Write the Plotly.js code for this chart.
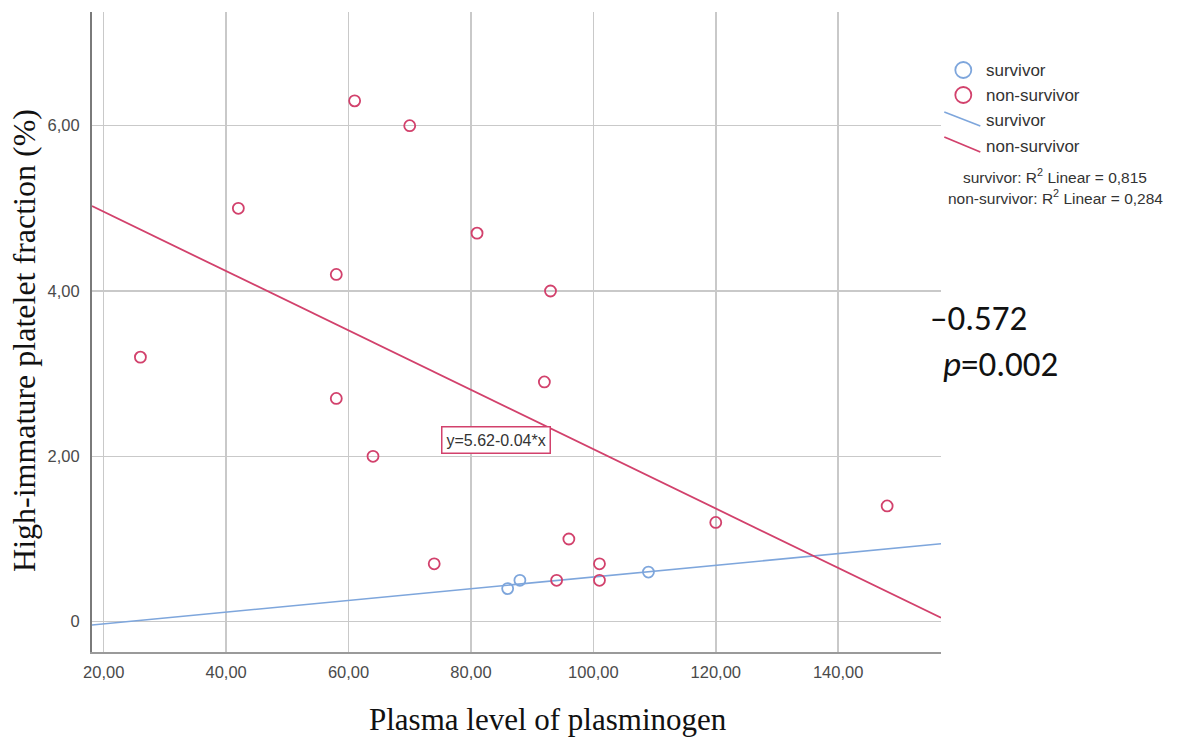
<!DOCTYPE html>
<html>
<head>
<meta charset="utf-8">
<script src="https://cdn.plot.ly/plotly-3.0.1.min.js"></script>
<style>html,body{margin:0;padding:0;background:#fff;}#chart{width:1181px;height:738px;}</style>
</head>
<body>
<div id="chart"></div>
<script>
// ---- data ----
const survivorX = [86, 88, 109];
const survivorY = [0.4, 0.5, 0.6];
const nonSurvivorX = [26, 42, 58, 58, 61, 70, 64, 81, 93, 92, 74, 96, 101, 101, 94, 120, 148];
const nonSurvivorY = [3.2, 5.0, 4.2, 2.7, 6.3, 6.0, 2.0, 4.7, 4.0, 2.9, 0.7, 1.0, 0.7, 0.5, 0.5, 1.2, 1.4];
const xTickVals = [20, 40, 60, 80, 100, 120, 140];
const xTickText = ["20,00", "40,00", "60,00", "80,00", "100,00", "120,00", "140,00"];
const yTickVals = [0, 2, 4, 6];
const yTickText = ["0", "2,00", "4,00", "6,00"];
const legendNames = ["survivor", "non-survivor"];
const r2Text = ["survivor: R<sup>2</sup> Linear = 0,815", "non-survivor: R<sup>2</sup> Linear = 0,284"];
const equationText = "y=5.62-0.04*x";
const corrText = "\u20130.572";
const pText = "<i>p</i>=0.002";

const xRange = [18.09, 156.8];
const yRange = [-0.367, 7.375];

const BLUE = "#7ea6dc";
const RED = "#d2416c";

function fit(xs, ys) {
  const n = xs.length;
  const mx = xs.reduce((a, b) => a + b, 0) / n;
  const my = ys.reduce((a, b) => a + b, 0) / n;
  let sxy = 0, sxx = 0;
  for (let i = 0; i < n; i++) { sxy += (xs[i] - mx) * (ys[i] - my); sxx += (xs[i] - mx) ** 2; }
  const b = sxy / sxx;
  return { a: my - b * mx, b: b };
}
const fS = fit(survivorX, survivorY);
const fN = fit(nonSurvivorX, nonSurvivorY);

const traces = [
  { x: xRange, y: xRange.map(v => fS.a + fS.b * v), mode: "lines", line: { color: BLUE, width: 1.6 }, hoverinfo: "skip" },
  { x: xRange, y: xRange.map(v => fN.a + fN.b * v), mode: "lines", line: { color: RED, width: 1.8 }, hoverinfo: "skip" },
  { x: survivorX, y: survivorY, mode: "markers", marker: { symbol: "circle-open", size: 11, color: BLUE, line: { width: 1.8, color: BLUE } } },
  { x: nonSurvivorX, y: nonSurvivorY, mode: "markers", marker: { symbol: "circle-open", size: 11, color: RED, line: { width: 1.8, color: RED } } }
];

function py(p) { return 1 - (p - 12) / 640; }  // pixel y -> paper y
function px(p) { return (p - 92) / 848.7; }     // pixel x -> paper x

const legFont = { family: "Liberation Sans, Arial, sans-serif", size: 17, color: "#333" };
const r2Font = { family: "Liberation Sans, Arial, sans-serif", size: 15.5, color: "#333" };
const bigFont = { family: "Carlito, Open Sans, sans-serif", size: 35, color: "#111" };
const serifTitle = { family: "Liberation Serif, Times New Roman, serif", size: 32, color: "#111" };

const annotations = [
  { xref: "paper", yref: "paper", x: px(24), y: py(340), xanchor: "center", yanchor: "middle", textangle: -90, showarrow: false,
    text: "High-immature platelet fraction (%)", font: serifTitle },
  { xref: "paper", yref: "paper", x: px(548), y: py(719), xanchor: "center", yanchor: "middle", showarrow: false,
    text: "Plasma level of plasminogen", font: { family: "Liberation Serif, Times New Roman, serif", size: 31, color: "#111" } },
  { xref: "x", yref: "y", x: 84.1, y: 2.2, showarrow: false, text: equationText, bordercolor: RED, borderwidth: 1.5, borderpad: 4, bgcolor: "#fff",
    font: { family: "Liberation Sans, Arial, sans-serif", size: 16, color: "#333" } }
];
const legY = [71, 96, 121, 146];
const legLabels = [legendNames[0], legendNames[1], legendNames[0], legendNames[1]];
for (let i = 0; i < 4; i++) {
  annotations.push({ xref: "paper", yref: "paper", x: px(984), y: py(legY[i]), xanchor: "left", yanchor: "middle", showarrow: false, text: legLabels[i], font: legFont });
}
annotations.push({ xref: "paper", yref: "paper", x: px(1055), y: py(176), xanchor: "center", yanchor: "middle", showarrow: false, text: r2Text[0], font: r2Font });
annotations.push({ xref: "paper", yref: "paper", x: px(1055), y: py(197), xanchor: "center", yanchor: "middle", showarrow: false, text: r2Text[1], font: r2Font });
annotations.push({ xref: "paper", yref: "paper", x: px(928), y: py(318), xanchor: "left", yanchor: "middle", showarrow: false, text: corrText, font: bigFont });
annotations.push({ xref: "paper", yref: "paper", x: px(941), y: py(364), xanchor: "left", yanchor: "middle", showarrow: false, text: pText, font: bigFont });

const shapes = [
  { type: "circle", xref: "paper", yref: "paper", x0: px(955), x1: px(971), y0: py(78), y1: py(62), line: { color: BLUE, width: 1.8 } },
  { type: "circle", xref: "paper", yref: "paper", x0: px(955), x1: px(971), y0: py(103), y1: py(87), line: { color: RED, width: 1.8 } },
  { type: "line", xref: "paper", yref: "paper", x0: px(944), x1: px(980), y0: py(112), y1: py(126), line: { color: BLUE, width: 1.6 } },
  { type: "line", xref: "paper", yref: "paper", x0: px(944), x1: px(980), y0: py(137), y1: py(152), line: { color: RED, width: 1.8 } }
];

const tickFont = { family: "Liberation Sans, Arial, sans-serif", size: 16.5, color: "#4a4a4a" };
const layout = {
  width: 1181, height: 738,
  margin: { l: 92, r: 240, t: 12, b: 86 },
  paper_bgcolor: "#fff", plot_bgcolor: "#fff",
  showlegend: false,
  xaxis: {
    range: xRange, tickvals: xTickVals, ticktext: xTickText, showgrid: true, gridcolor: "#c9c9c9", gridwidth: 1.5,
    zeroline: false, showline: true, linecolor: "#9a9a9a", linewidth: 1.5, ticks: "", ticklabelstandoff: 5,
    tickfont: tickFont, fixedrange: true
  },
  yaxis: {
    range: yRange, tickvals: yTickVals, ticktext: yTickText, showgrid: true, gridcolor: "#c9c9c9", gridwidth: 1.5,
    zeroline: false, showline: true, linecolor: "#7a7a7a", linewidth: 2, ticks: "", ticklabelstandoff: 7,
    tickfont: tickFont, fixedrange: true
  },
  annotations: annotations,
  shapes: shapes
};

Plotly.newPlot("chart", traces, layout, { displayModeBar: false, staticPlot: true });
</script>
</body>
</html>
